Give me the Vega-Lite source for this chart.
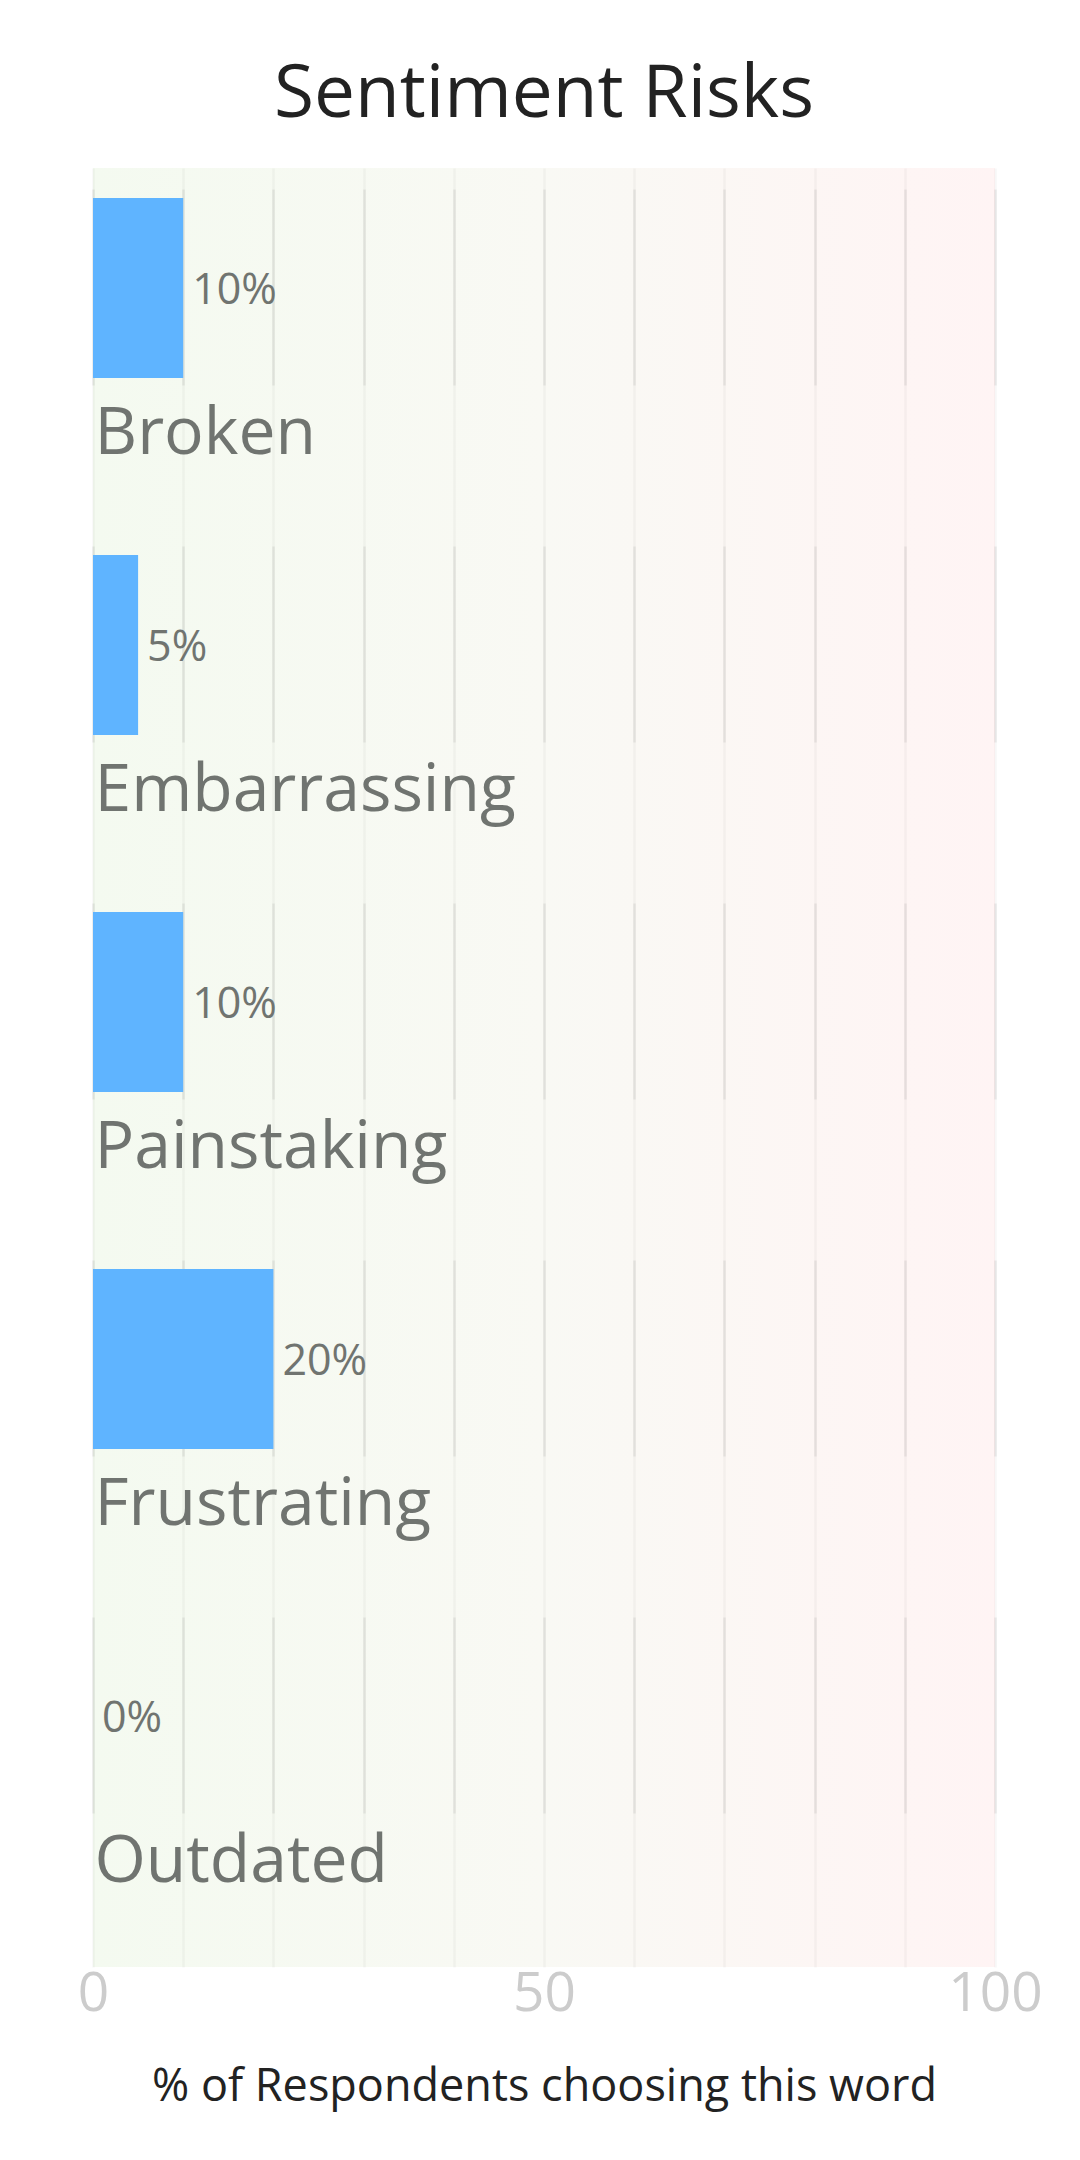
{
  "$schema": "https://vega.github.io/schema/vega-lite/v6.json",
  "description": "Sentiment Risks",
  "autosize": "none",
  "width": 902,
  "height": 1799,
  "padding": {"left": 93, "top": 168, "right": 85, "bottom": 193},
  "background": "white",
  "title": {
    "text": "Sentiment Risks",
    "font": "Open Sans",
    "fontSize": 73,
    "fontWeight": "normal",
    "color": "#222222",
    "anchor": "middle",
    "offset": 36
  },
  "view": {
    "stroke": null,
    "fill": {
      "gradient": "linear",
      "x1": 0, "y1": 0, "x2": 1, "y2": 0,
      "stops": [
        {"offset": 0, "color": "#f4faf0"},
        {"offset": 0.5, "color": "#f9f9f4"},
        {"offset": 1, "color": "#fff4f4"}
      ]
    }
  },
  "data": {
    "values": [
      {"word": "Broken", "pct": 10},
      {"word": "Embarrassing", "pct": 5},
      {"word": "Painstaking", "pct": 10},
      {"word": "Frustrating", "pct": 20},
      {"word": "Outdated", "pct": 0}
    ]
  },
  "transform": [{"calculate": "datum.pct + '%'", "as": "label"}],
  "encoding": {
    "y": {
      "field": "word",
      "type": "nominal",
      "sort": null,
      "scale": {"paddingInner": 0.496, "paddingOuter": 0.2675, "align": 0.157},
      "axis": {
        "orient": "left",
        "title": null,
        "ticks": false,
        "domain": false,
        "grid": false,
        "labelAlign": "left",
        "labelBaseline": "alphabetic",
        "labelPadding": -1,
        "labelOffset": 166,
        "labelFont": "Open Sans",
        "labelFontSize": 66,
        "labelColor": "#707470",
        "labelLimit": 0
      }
    }
  },
  "layer": [
    {
      "mark": {"type": "bar", "color": "#5fb4ff"},
      "encoding": {
        "x": {
          "field": "pct",
          "type": "quantitative",
          "scale": {"domain": [0, 100]},
          "axis": {
            "orient": "bottom",
            "values": [0, 10, 20, 30, 40, 50, 60, 70, 80, 90, 100],
            "labelExpr": "datum.value % 50 === 0 ? datum.label : ''",
            "labelFlush": false,
            "labelOverlap": false,
            "labelFont": "Open Sans",
            "labelFontSize": 55,
            "labelColor": "#cccccc",
            "labelPadding": 0,
            "ticks": false,
            "domain": false,
            "grid": true,
            "gridColor": "#000000",
            "gridOpacity": 0.03,
            "gridWidth": 2.5,
            "title": "% of Respondents choosing this word",
            "titleFont": "Open Sans",
            "titleFontSize": 45,
            "titleFontWeight": "normal",
            "titleColor": "#222222",
            "titlePadding": 43
          }
        }
      }
    },
    {
      "mark": {
        "type": "text",
        "align": "left",
        "baseline": "middle",
        "dx": 9,
        "dy": 3,
        "font": "Open Sans",
        "fontSize": 43,
        "color": "#707470"
      },
      "encoding": {
        "x": {
          "field": "pct",
          "type": "quantitative",
          "scale": {"domain": [0, 100]},
          "axis": {
            "orient": "top",
            "values": [0, 10, 20, 30, 40, 50, 60, 70, 80, 90, 100],
            "labels": false,
            "ticks": false,
            "domain": false,
            "title": null,
            "grid": true,
            "gridColor": "#000000",
            "gridOpacity": 0.065,
            "gridWidth": 2.5,
            "gridDash": [196, 161],
            "gridDashOffset": 336
          }
        },
        "text": {"field": "label"}
      }
    }
  ],
  "resolve": {"axis": {"x": "independent"}}
}
